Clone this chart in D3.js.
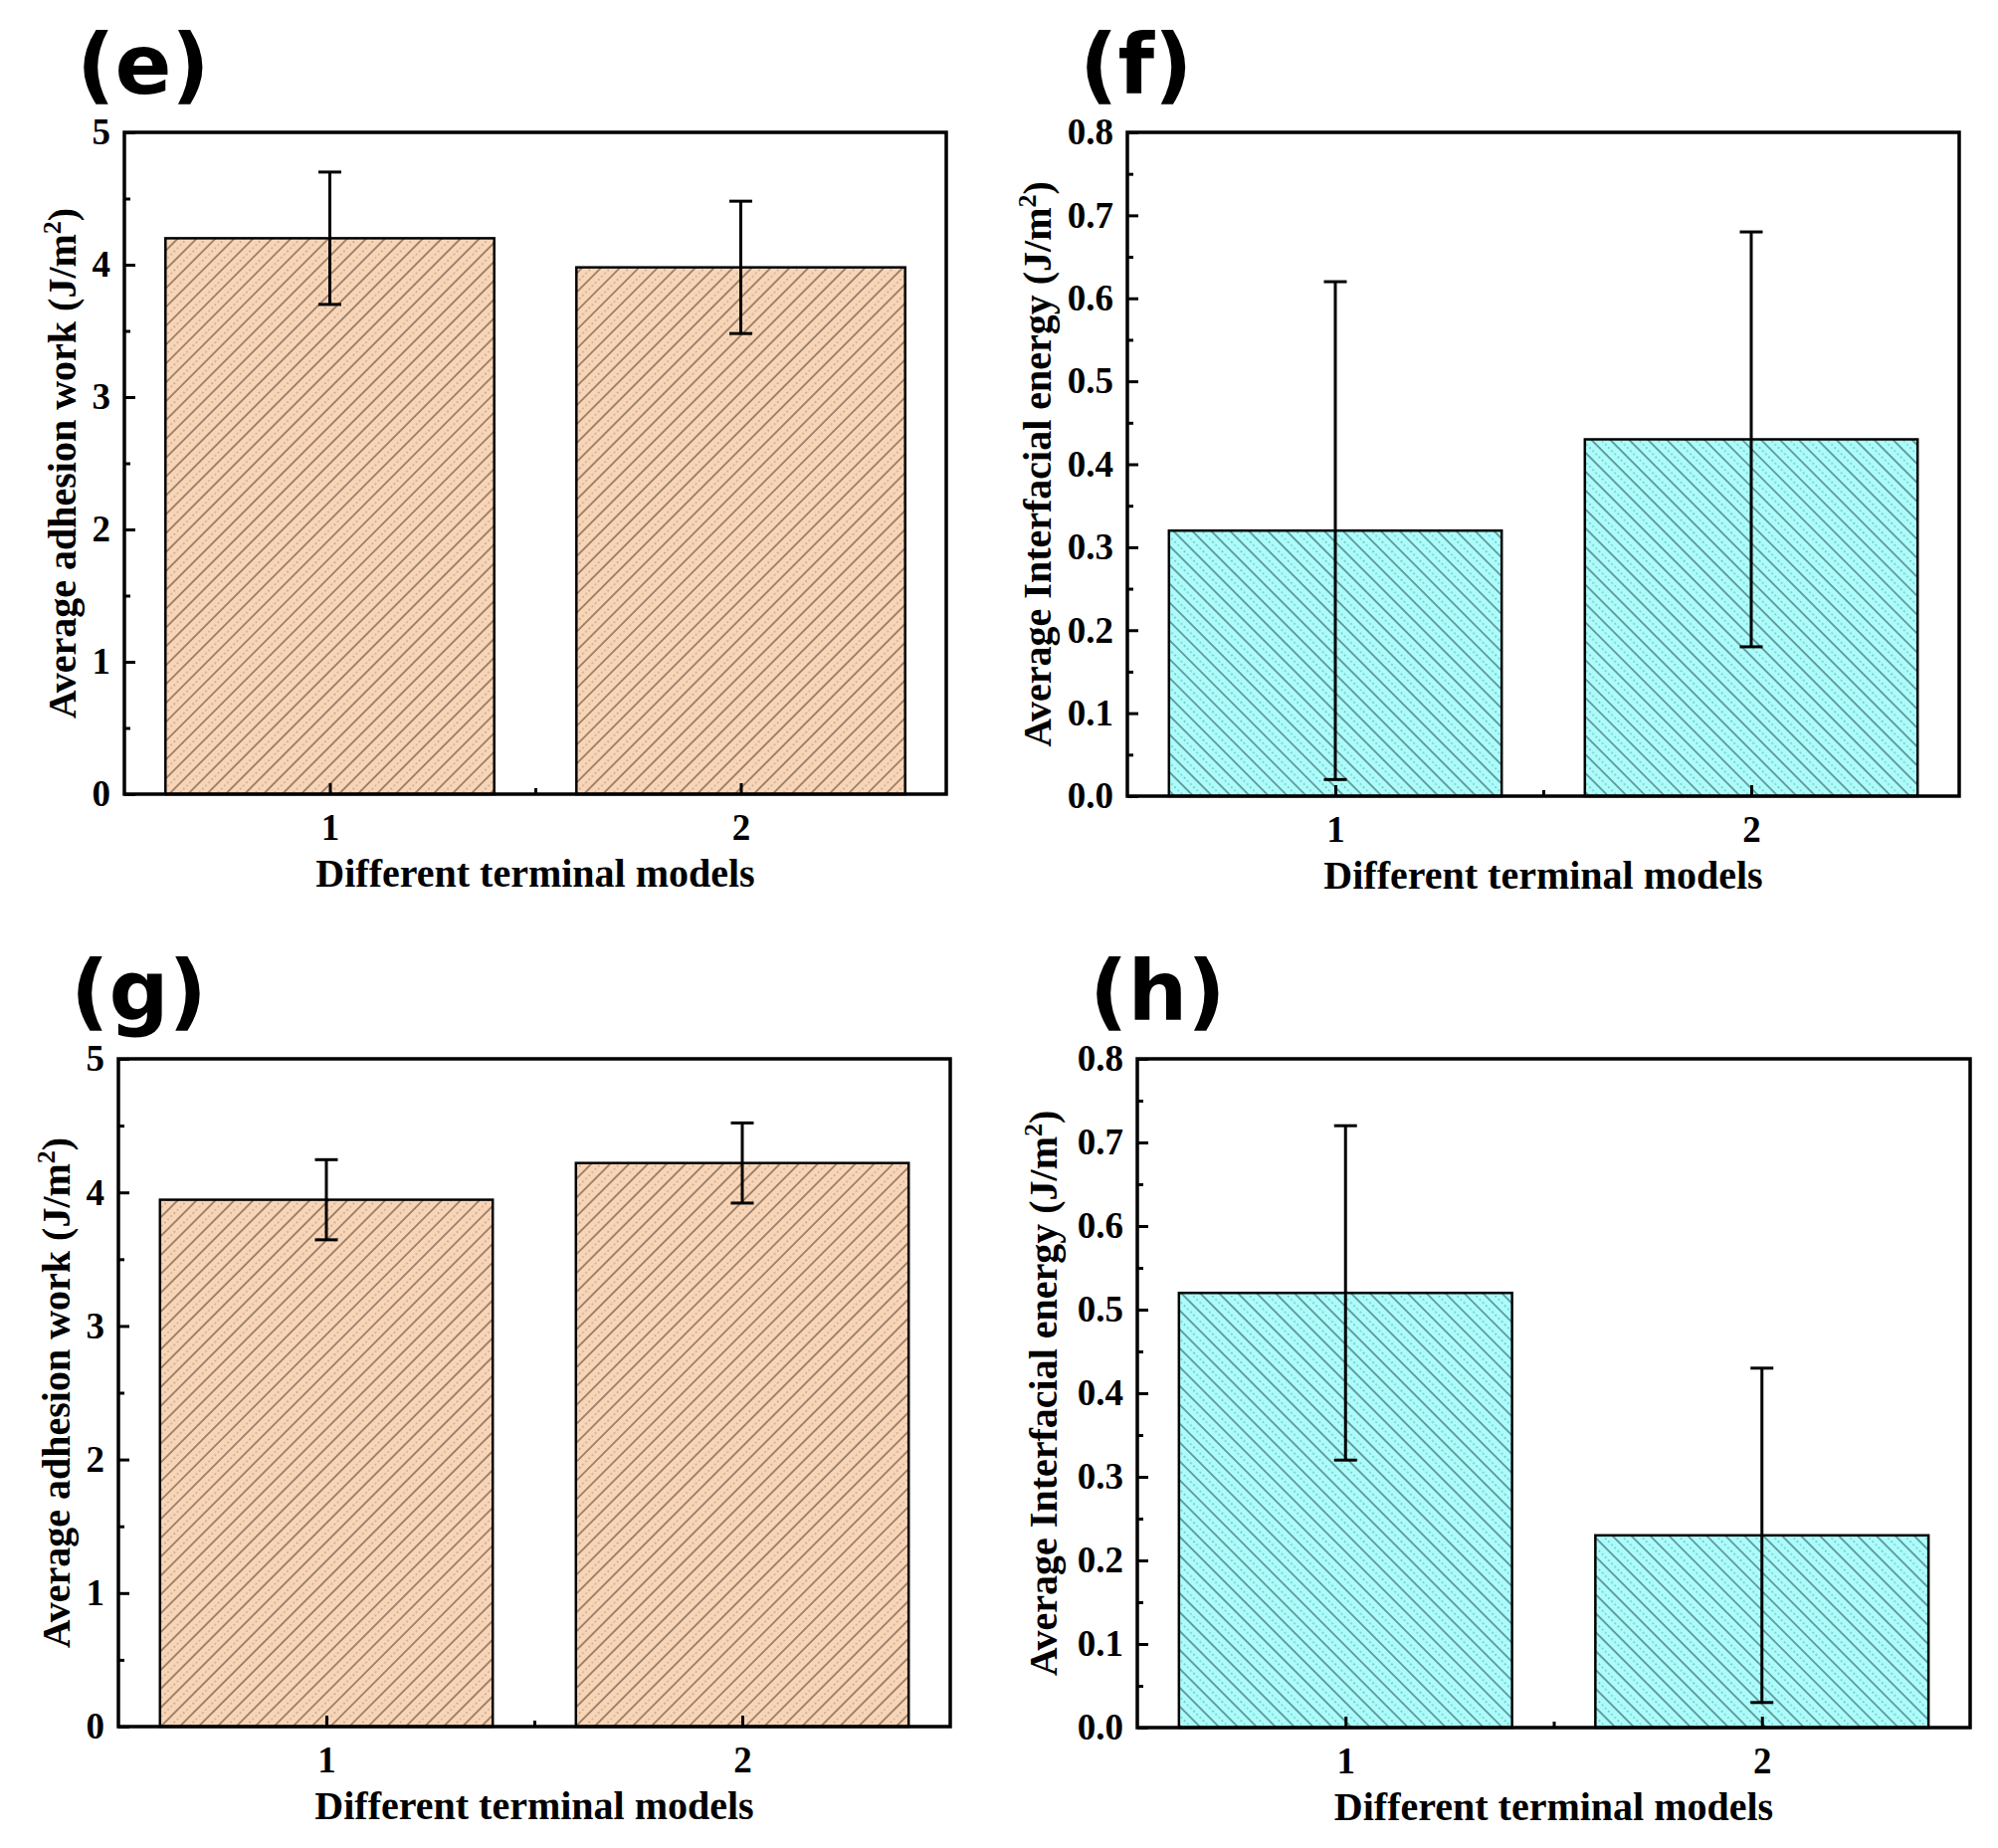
<!DOCTYPE html>
<html>
<head>
<meta charset="utf-8">
<script src="https://cdn.jsdelivr.net/npm/d3@7"></script>
<style>
  body { margin: 0; background: #fff; }
  svg text { font-family: "Liberation Serif", "Times New Roman", serif; font-weight: bold; fill: #000; }
</style>
</head>
<body>
<script>
var W = 2008;
var H = 1857;

// categories on the x axis
var models = [1, 2];

// (e) adhesion work, first system
var adhesionE = [4.2, 3.98];
var adhesionErrE = [0.5, 0.5];

// (f) interfacial energy, first system
var energyF = [0.32, 0.43];
var energyErrF = [0.30, 0.25];

// (g) adhesion work, second system
var adhesionG = [3.945, 4.22];
var adhesionErrG = [0.30, 0.30];

// (h) interfacial energy, second system
var energyH = [0.52, 0.23];
var energyErrH = [0.20, 0.20];

var adhesionTicks = [0, 1, 2, 3, 4, 5];
var adhesionMinor = [0.5, 1.5, 2.5, 3.5, 4.5];
var energyTicks = [0, 0.1, 0.2, 0.3, 0.4, 0.5, 0.6, 0.7, 0.8];
var energyMinor = [0.05, 0.15, 0.25, 0.35, 0.45, 0.55, 0.65, 0.75];

var xLabel = "Different terminal models";

var svg = d3.select("body")
            .append("svg")
            .attr("width", W)
            .attr("height", H);

var defs = svg.append("defs");

//hatch patterns: one dark line and one lighter dotted line per tile
function hatch(id, fill, dark, light, angle) {
  var p = defs.append("pattern")
              .attr("id", id)
              .attr("patternUnits", "userSpaceOnUse")
              .attr("width", 13.4)
              .attr("height", 13.4)
              .attr("patternTransform", "rotate(" + angle + ")");
  p.append("rect")
   .attr("width", 13.4).attr("height", 13.4)
   .attr("fill", fill);
  p.append("line")
   .attr("x1", 1).attr("y1", 0).attr("x2", 1).attr("y2", 13.4)
   .attr("stroke", dark).attr("stroke-width", 1);
  p.append("line")
   .attr("x1", 7.7).attr("y1", 0).attr("x2", 7.7).attr("y2", 13.4)
   .attr("stroke", light).attr("stroke-width", 1)
   .attr("stroke-dasharray", "1.8,2.7");
}

hatch("peach", "#f9d5b7", "#4a3626", "#a58c78", 45);
hatch("cyan", "#acfcfc", "#1f4646", "#5a9c9c", -45);

function drawPanel(cfg) {
  var g = svg.append("g");

  var x = d3.scaleLinear().domain([0.5, 2.5]).range([cfg.left, cfg.right]);
  var y = d3.scaleLinear().domain([0, cfg.max]).range([cfg.bottom, cfg.top]);
  var unit = x(2) - x(1);

  //bars
  g.selectAll("rect.bar")
   .data(cfg.values)
   .enter()
   .append("rect")
   .attr("class", "bar")
   .attr("x", function(d, i) { return x(models[i]) - unit * 0.4; })
   .attr("y", function(d) { return y(d); })
   .attr("width", unit * 0.8)
   .attr("height", function(d) { return y(0) - y(d); })
   .attr("fill", "url(#" + cfg.pattern + ")")
   .attr("stroke", "#000")
   .attr("stroke-width", 2.5);

  //error bars
  var err = g.selectAll("g.err")
             .data(cfg.values)
             .enter()
             .append("g")
             .attr("class", "err")
             .attr("stroke", "#000")
             .attr("stroke-width", 3);

  err.append("line")
     .attr("x1", function(d, i) { return x(models[i]); })
     .attr("x2", function(d, i) { return x(models[i]); })
     .attr("y1", function(d, i) { return y(d - cfg.errs[i]); })
     .attr("y2", function(d, i) { return y(d + cfg.errs[i]); });

  [-1, 1].forEach(function(s) {
    err.append("line")
       .attr("x1", function(d, i) { return x(models[i]) - 11.5; })
       .attr("x2", function(d, i) { return x(models[i]) + 11.5; })
       .attr("y1", function(d, i) { return y(d + s * cfg.errs[i]); })
       .attr("y2", function(d, i) { return y(d + s * cfg.errs[i]); });
  });

  //axes with inward ticks
  var yAxis = g.append("g")
               .attr("transform", "translate(" + cfg.left + ",0)")
               .call(d3.axisLeft(y).tickValues(cfg.ticks).tickSize(-11).tickPadding(14)
                     .tickFormat(cfg.format));
  var yMinor = g.append("g")
                .attr("transform", "translate(" + cfg.left + ",0)")
                .call(d3.axisLeft(y).tickValues(cfg.minor).tickSize(-6).tickFormat(""));
  var xAxis = g.append("g")
               .attr("transform", "translate(0," + cfg.bottom + ")")
               .call(d3.axisBottom(x).tickValues(models).tickSize(-11).tickPadding(20)
                     .tickFormat(d3.format("d")));
  var xMinor = g.append("g")
                .attr("transform", "translate(0," + cfg.bottom + ")")
                .call(d3.axisBottom(x).tickValues([1.5]).tickSize(-6).tickFormat(""));

  [yAxis, yMinor, xAxis, xMinor].forEach(function(a) {
    a.select(".domain").remove();
    a.selectAll(".tick line").attr("stroke", "#000").attr("stroke-width", 3);
    a.selectAll(".tick text")
     .attr("fill", "#000")
     .style("font-family", "'Liberation Serif', serif")
     .style("font-weight", "bold")
     .style("font-size", "37px");
  });

  //frame
  g.append("rect")
   .attr("x", cfg.left)
   .attr("y", cfg.top)
   .attr("width", cfg.right - cfg.left)
   .attr("height", cfg.bottom - cfg.top)
   .attr("fill", "none")
   .attr("stroke", "#000")
   .attr("stroke-width", 3.5);

  //axis titles
  g.append("text")
   .attr("x", (cfg.left + cfg.right) / 2)
   .attr("y", cfg.bottom + 93)
   .attr("text-anchor", "middle")
   .style("font-size", "40px")
   .text(xLabel);

  var yl = g.append("text")
            .attr("transform", "translate(" + (cfg.left - cfg.yLabelOffset) + "," +
                  ((cfg.top + cfg.bottom) / 2) + ") rotate(-90)")
            .attr("text-anchor", "middle")
            .style("font-size", "40px");
  yl.append("tspan").text(cfg.yLabel + " (J/m");
  yl.append("tspan").attr("dy", -15).style("font-size", "26px").text("2");
  yl.append("tspan").attr("dy", 15).text(")");

  //panel letter
  g.append("text")
   .attr("x", cfg.left - 48)
   .attr("y", cfg.top - 39)
   .style("font-family", "'DejaVu Sans', sans-serif")
   .style("font-weight", "bold")
   .style("font-size", "84px")
   .text(cfg.title);
}

drawPanel({
  title: "(e)", left: 125, right: 951, top: 133, bottom: 798,
  max: 5, ticks: adhesionTicks, minor: adhesionMinor, format: d3.format("d"),
  values: adhesionE, errs: adhesionErrE, pattern: "peach",
  yLabel: "Average adhesion work", yLabelOffset: 49
});

drawPanel({
  title: "(f)", left: 1133, right: 1969, top: 133, bottom: 800,
  max: 0.8, ticks: energyTicks, minor: energyMinor, format: d3.format(".1f"),
  values: energyF, errs: energyErrF, pattern: "cyan",
  yLabel: "Average Interfacial energy", yLabelOffset: 77
});

drawPanel({
  title: "(g)", left: 119, right: 955, top: 1064, bottom: 1735,
  max: 5, ticks: adhesionTicks, minor: adhesionMinor, format: d3.format("d"),
  values: adhesionG, errs: adhesionErrG, pattern: "peach",
  yLabel: "Average adhesion work", yLabelOffset: 49
});

drawPanel({
  title: "(h)", left: 1143, right: 1980, top: 1064, bottom: 1736,
  max: 0.8, ticks: energyTicks, minor: energyMinor, format: d3.format(".1f"),
  values: energyH, errs: energyErrH, pattern: "cyan",
  yLabel: "Average Interfacial energy", yLabelOffset: 81
});
</script>
</body>
</html>
